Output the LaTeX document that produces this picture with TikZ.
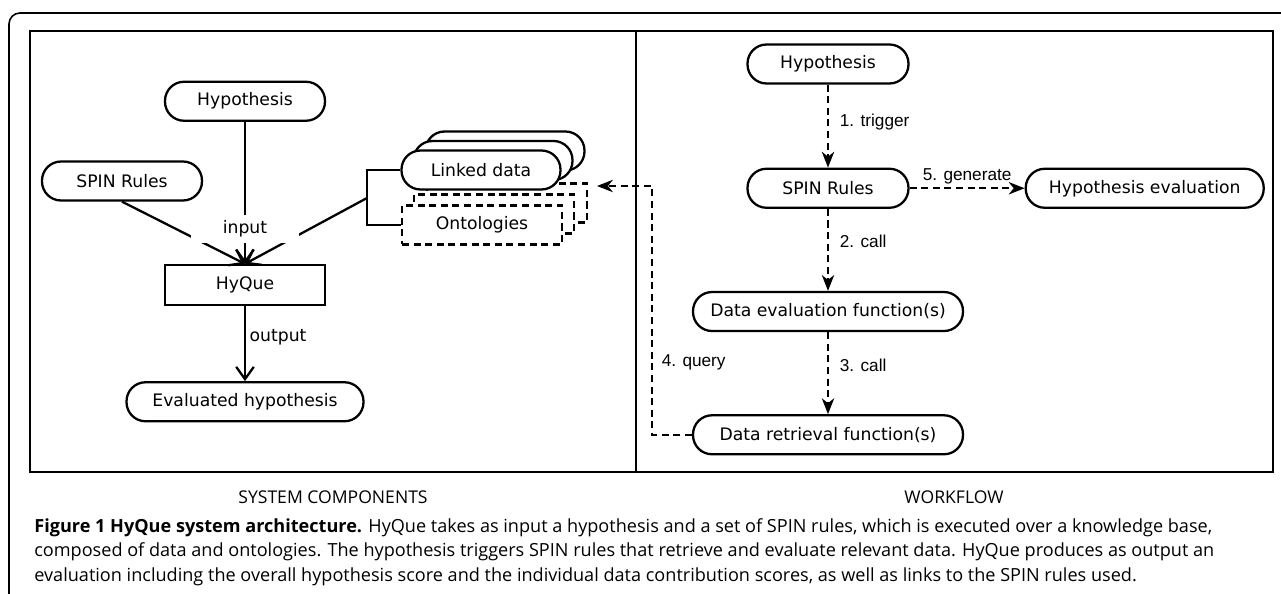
\documentclass[tikz,border=0pt]{standalone}
\usepackage{fontspec}
\setmainfont{DejaVu Sans}
\newfontfamily\edgefont{Liberation Sans}
\newfontfamily\capfont{Open Sans}
\usetikzlibrary{positioning,arrows.meta}

\tikzset{
  pill/.style={draw, line width=1.3pt, fill=white, rounded corners=0.38cm,
               minimum height=0.78cm, inner sep=0pt,
               font=\fontsize{9.8}{12}\selectfont},
  dashpill/.style={pill, rounded corners=0pt, line width=1.2pt, dash pattern=on 4pt off 2.6pt},
  flow/.style={line width=1.3pt, -{Straight Barb[length=7pt,width=10pt]}},
  flowd/.style={line width=1.3pt, dash pattern=on 4pt off 2.6pt,
                -{Stealth[length=9pt,width=7pt,inset=2.8pt]}},
  steplabel/.style={font=\edgefont\fontsize{9.8}{12}\selectfont, inner sep=1pt},
  panellabel/.style={font=\capfont\fontsize{10}{12}\selectfont},
}

\begin{document}
\begin{tikzpicture}[x=0.02cm, y=-0.02cm]
  \useasboundingbox (0,0) rectangle (1281,594);
  \clip (0,0) rectangle (1281,594);

  % frame and panels
  \draw[line width=0.9pt, rounded corners=0.22cm] (9,620) -- (9,13) -- (1300,13);
  \draw[line width=1.5pt] (30,31) rectangle (1273,472);
  \draw[line width=1.3pt] (636,31) -- (636,472);

  % system components
  \node[pill, rounded corners=0pt, minimum width=3.2cm, minimum height=0.8cm] (hyque) at (245,285) {HyQue};
  \node[pill, minimum width=3.2cm, above=2.84cm of hyque] (hypin) {Hypothesis};
  \node[pill, minimum width=3.2cm] (spinin) at (122,181) {SPIN Rules};
  \node[pill, minimum width=4.74cm, below=1.5cm of hyque] (evalhyp) {Evaluated hypothesis};

  % knowledge base
  \coordinate (kb) at (481,170);
  \coordinate (ont) at (482,225);
  \node[dashpill, minimum width=3.2cm] (onto3) at ([shift={(25,-22)}]ont) {};
  \node[dashpill, minimum width=3.2cm] (onto2) at ([shift={(12,-11)}]ont) {};
  \node[dashpill, minimum width=3.2cm] (onto) at (ont) {Ontologies};
  \node[pill, minimum width=3.18cm] (linked3) at ([shift={(24,-19)}]kb) {};
  \node[pill, minimum width=3.18cm] (linked2) at ([shift={(12,-9.5)}]kb) {};
  \node[pill, minimum width=3.18cm] (linked) at (kb) {Linked data};

  \coordinate (kbbr) at (367,198);
  \draw[line width=1.3pt] (linked.west) -| (kbbr) |- (onto.west);

  \draw[flow] (spinin.south) -- (hyque.north);
  \draw[flow] (hypin.south) -- (hyque.north);
  \draw[flow] (kbbr) -- (hyque.north);
  \node[fill=white, minimum width=2.18cm, minimum height=0.58cm, inner sep=0pt,
        font=\fontsize{9.8}{12}\selectfont] (inlbl) at (245,229) {input};
  \draw[flow] (hyque.south) -- node[right, pos=0.42, inner sep=2pt,
        font=\fontsize{9.8}{12}\selectfont] {output} (evalhyp.north);

  % workflow
  \node[pill, minimum width=3.22cm] (hypwf) at (828,64) {Hypothesis};
  \node[pill, minimum width=3.22cm, below=1.66cm of hypwf] (spinwf) {SPIN Rules};
  \node[pill, minimum width=4.76cm, right=2.3cm of spinwf] (hypeval) {Hypothesis evaluation};
  \node[pill, minimum width=5.4cm, below=1.64cm of spinwf] (deval) {Data evaluation function(s)};
  \node[pill, minimum width=5.4cm, below=1.64cm of deval] (dretr) {Data retrieval function(s)};

  \draw[flowd] (hypwf) -- node[steplabel, pos=0.45, right=0.18cm] {1. trigger} (spinwf);
  \draw[flowd] (spinwf) -- node[steplabel, above=1pt] {5. generate} (hypeval);
  \draw[flowd] (spinwf) -- node[steplabel, pos=0.4, right=0.18cm] {2. call} (deval);
  \draw[flowd] (deval) -- node[steplabel, pos=0.4, right=0.18cm] {3. call} (dretr);

  \coordinate (kbin) at (597,186);
  \draw[flowd] (dretr.west) -- ++(-40,0) |- node[steplabel, pos=0.145, right=0.14cm] {4. query} (kbin);

  % panel titles and caption
  \node[panellabel] (syslbl) at (333,497) {SYSTEM COMPONENTS};
  \node[panellabel] (wflbl) at (954,497) {WORKFLOW};

  \node[anchor=north west, align=left, inner sep=0pt,
        font=\capfont\fontsize{10.3}{14}\selectfont] (caption) at (34,518) {%
    \textbf{Figure 1 HyQue system architecture.} HyQue takes as input a hypothesis and a set of SPIN rules, which is executed over a knowledge base,\\
    composed of data and ontologies. The hypothesis triggers SPIN rules that retrieve and evaluate relevant data. HyQue produces as output an\\
    evaluation including the overall hypothesis score and the individual data contribution scores, as well as links to the SPIN rules used.};
\end{tikzpicture}
\end{document}
